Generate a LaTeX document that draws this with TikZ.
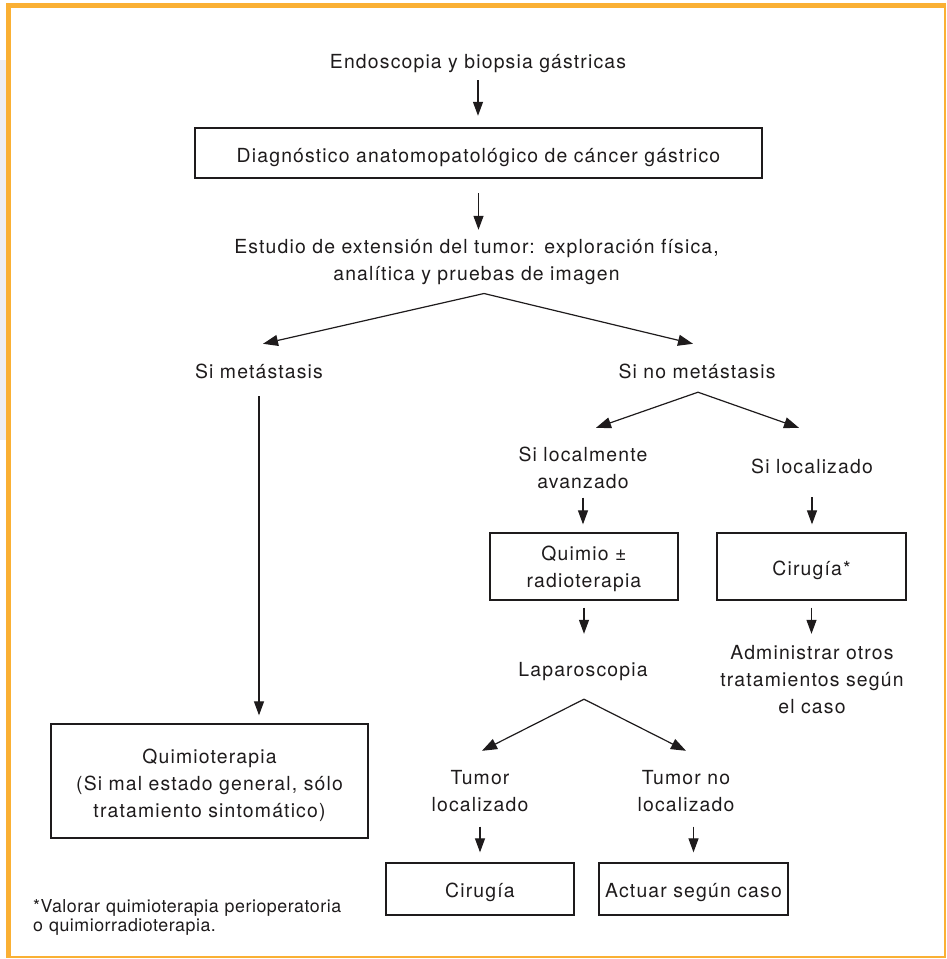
\documentclass[tikz,border=0pt]{standalone}
\usepackage{fontspec}
\setmainfont{TeX Gyre Heros}[LetterSpace=6, WordSpace=1.3]
\newfontfamily\footfont{TeX Gyre Heros}[LetterSpace=3, WordSpace=1.2]
\usetikzlibrary{arrows.meta,calc}
\definecolor{frameor}{RGB}{250,176,52}
\definecolor{ink}{RGB}{30,27,28}
\definecolor{sidegray}{RGB}{238,238,242}
\begin{document}
\begin{tikzpicture}[x=1pt,y=-1pt,
  font=\fontsize{19.4}{27.3}\selectfont, text=ink,
  txt/.style={inner sep=0pt, align=center, text width=560pt, text height=13pt, text depth=4pt, anchor=base},
  two/.style={text depth=31.3pt},
  three/.style={text depth=58.6pt},
  box/.style={draw=ink, line width=1.3pt, inner sep=0pt, align=center, anchor=center},
  arr/.style={draw=ink, line width=1.2pt, -{Triangle[length=14pt,width=10pt]}},
  darr/.style={draw=ink, line width=1.2pt, -{Triangle[length=15pt,width=11pt]}}
]
\useasboundingbox (0,0) rectangle (946,959);
% frame
\fill[sidegray] (0,60) rectangle (5.5,440);
\fill[frameor] (5.5,3.3) rectangle (10.5,957.8);
\fill[frameor] (5.5,3.3) rectangle (946,7.5);
\draw[frameor, line width=1.5pt] (945,7) -- (945,957.8);
\draw[frameor, line width=1.8pt] (10,957) -- (946,957);

% nodes
\node[txt] (endo) at (478,68) {Endoscopia y biopsia gástricas};
\node[box, line width=2.4pt, minimum width=567pt, minimum height=50pt, text width=560pt, text height=20pt, text depth=2pt] (diag) at (478.5,153) {Diagnóstico anatomopatológico de cáncer gástrico};
\node[txt, two] (est) at (476.5,253) {Estudio de extensión del tumor: exploración física,\\analítica y pruebas de imagen};
\node[txt] (met) at (259,378) {Si metástasis};
\node[txt] (nomet) at (697,378) {Si no metástasis};
\node[box, minimum width=317pt, minimum height=114pt, text width=310pt, text height=13pt, text depth=49pt] (qt) at (209.5,781) {Quimioterapia\\(Si mal estado general, sólo\\tratamiento sintomático)};
\node[txt, two] (locav) at (583,461) {Si localmente\\avanzado};
\node[txt] (loc) at (812,473) {Si localizado};
\node[box, minimum width=188pt, minimum height=67pt, text width=182pt, text height=13pt, text depth=26pt] (qrt) at (584,566.5) {Quimio ±\\radioterapia};
\node[box, minimum width=189pt, minimum height=67pt, text width=182pt, text height=19pt, text depth=2pt] (cir1) at (811.5,566.5) {Cirugía*};
\node[txt] (lap) at (583,676) {Laparoscopia};
\node[txt, three] (adm) at (812,659) {Administrar otros\\tratamientos según\\el caso};
\node[txt, two] (tl) at (480,784) {Tumor\\localizado};
\node[txt, two] (tnl) at (686,784) {Tumor no\\localizado};
\node[box, minimum width=188pt, minimum height=52pt, text width=182pt, text height=18pt, text depth=2pt] (cir2) at (480,889) {Cirugía};
\node[box, minimum width=189pt, minimum height=52pt, text width=187pt, text height=18pt, text depth=2pt] (act) at (693.5,889) {Actuar según caso};
\node[anchor=base west, inner sep=0pt, align=left, text width=340pt, font=\footfont\fontsize{17.8}{19}\selectfont] (foot) at (33,912) {*Valorar quimioterapia perioperatoria\\o quimiorradioterapia.};

% connectors
\draw[arr, shorten <=8pt, shorten >=11pt] (endo.south) -- (endo.south |- diag.north);
\draw[arr, shorten <=14pt, shorten >=10pt] (diag.south) -- (diag.south |- est.north);
\draw[darr] ([xshift=7.5pt,yshift=-9pt]est.south) -- ([xshift=4pt,yshift=21pt]met.north);
\draw[darr] ([xshift=7.5pt,yshift=-9pt]est.south) -- ([xshift=-4pt,yshift=21pt]nomet.north);
\draw[arr, shorten <=14pt, shorten >=8pt] (met.south) -- (met.south |- qt.north);
\draw[darr] ([xshift=1pt,yshift=-10pt]nomet.south) -- ([xshift=13pt,yshift=20pt]locav.north);
\draw[darr] ([xshift=1pt,yshift=-10pt]nomet.south) -- ([xshift=-13pt,yshift=32pt]loc.north);
\draw[arr, shorten <=5pt, shorten >=8pt] (locav.south) -- (locav.south |- qrt.north);
\draw[arr, shorten <=20pt, shorten >=8pt] (loc.south) -- (loc.south |- cir1.north);
\draw[arr, shorten <=7pt, shorten >=29pt] (qrt.south) -- (qrt.south |- lap.north);
\draw[arr, shorten <=7pt, shorten >=12pt] (cir1.south) -- (cir1.south |- adm.north);
\draw[darr] ([xshift=1pt,yshift=-19pt]lap.south) -- ([xshift=2pt,yshift=20pt]tl.north);
\draw[darr] ([xshift=1pt,yshift=-19pt]lap.south) -- ([yshift=20pt]tnl.north);
\draw[arr, shorten <=11pt, shorten >=10pt] (tl.south) -- (tl.south |- cir2.north);
\draw[arr, shorten <=11pt, shorten >=10pt] (act.north |- tnl.south) -- (act.north);
\end{tikzpicture}
\end{document}
